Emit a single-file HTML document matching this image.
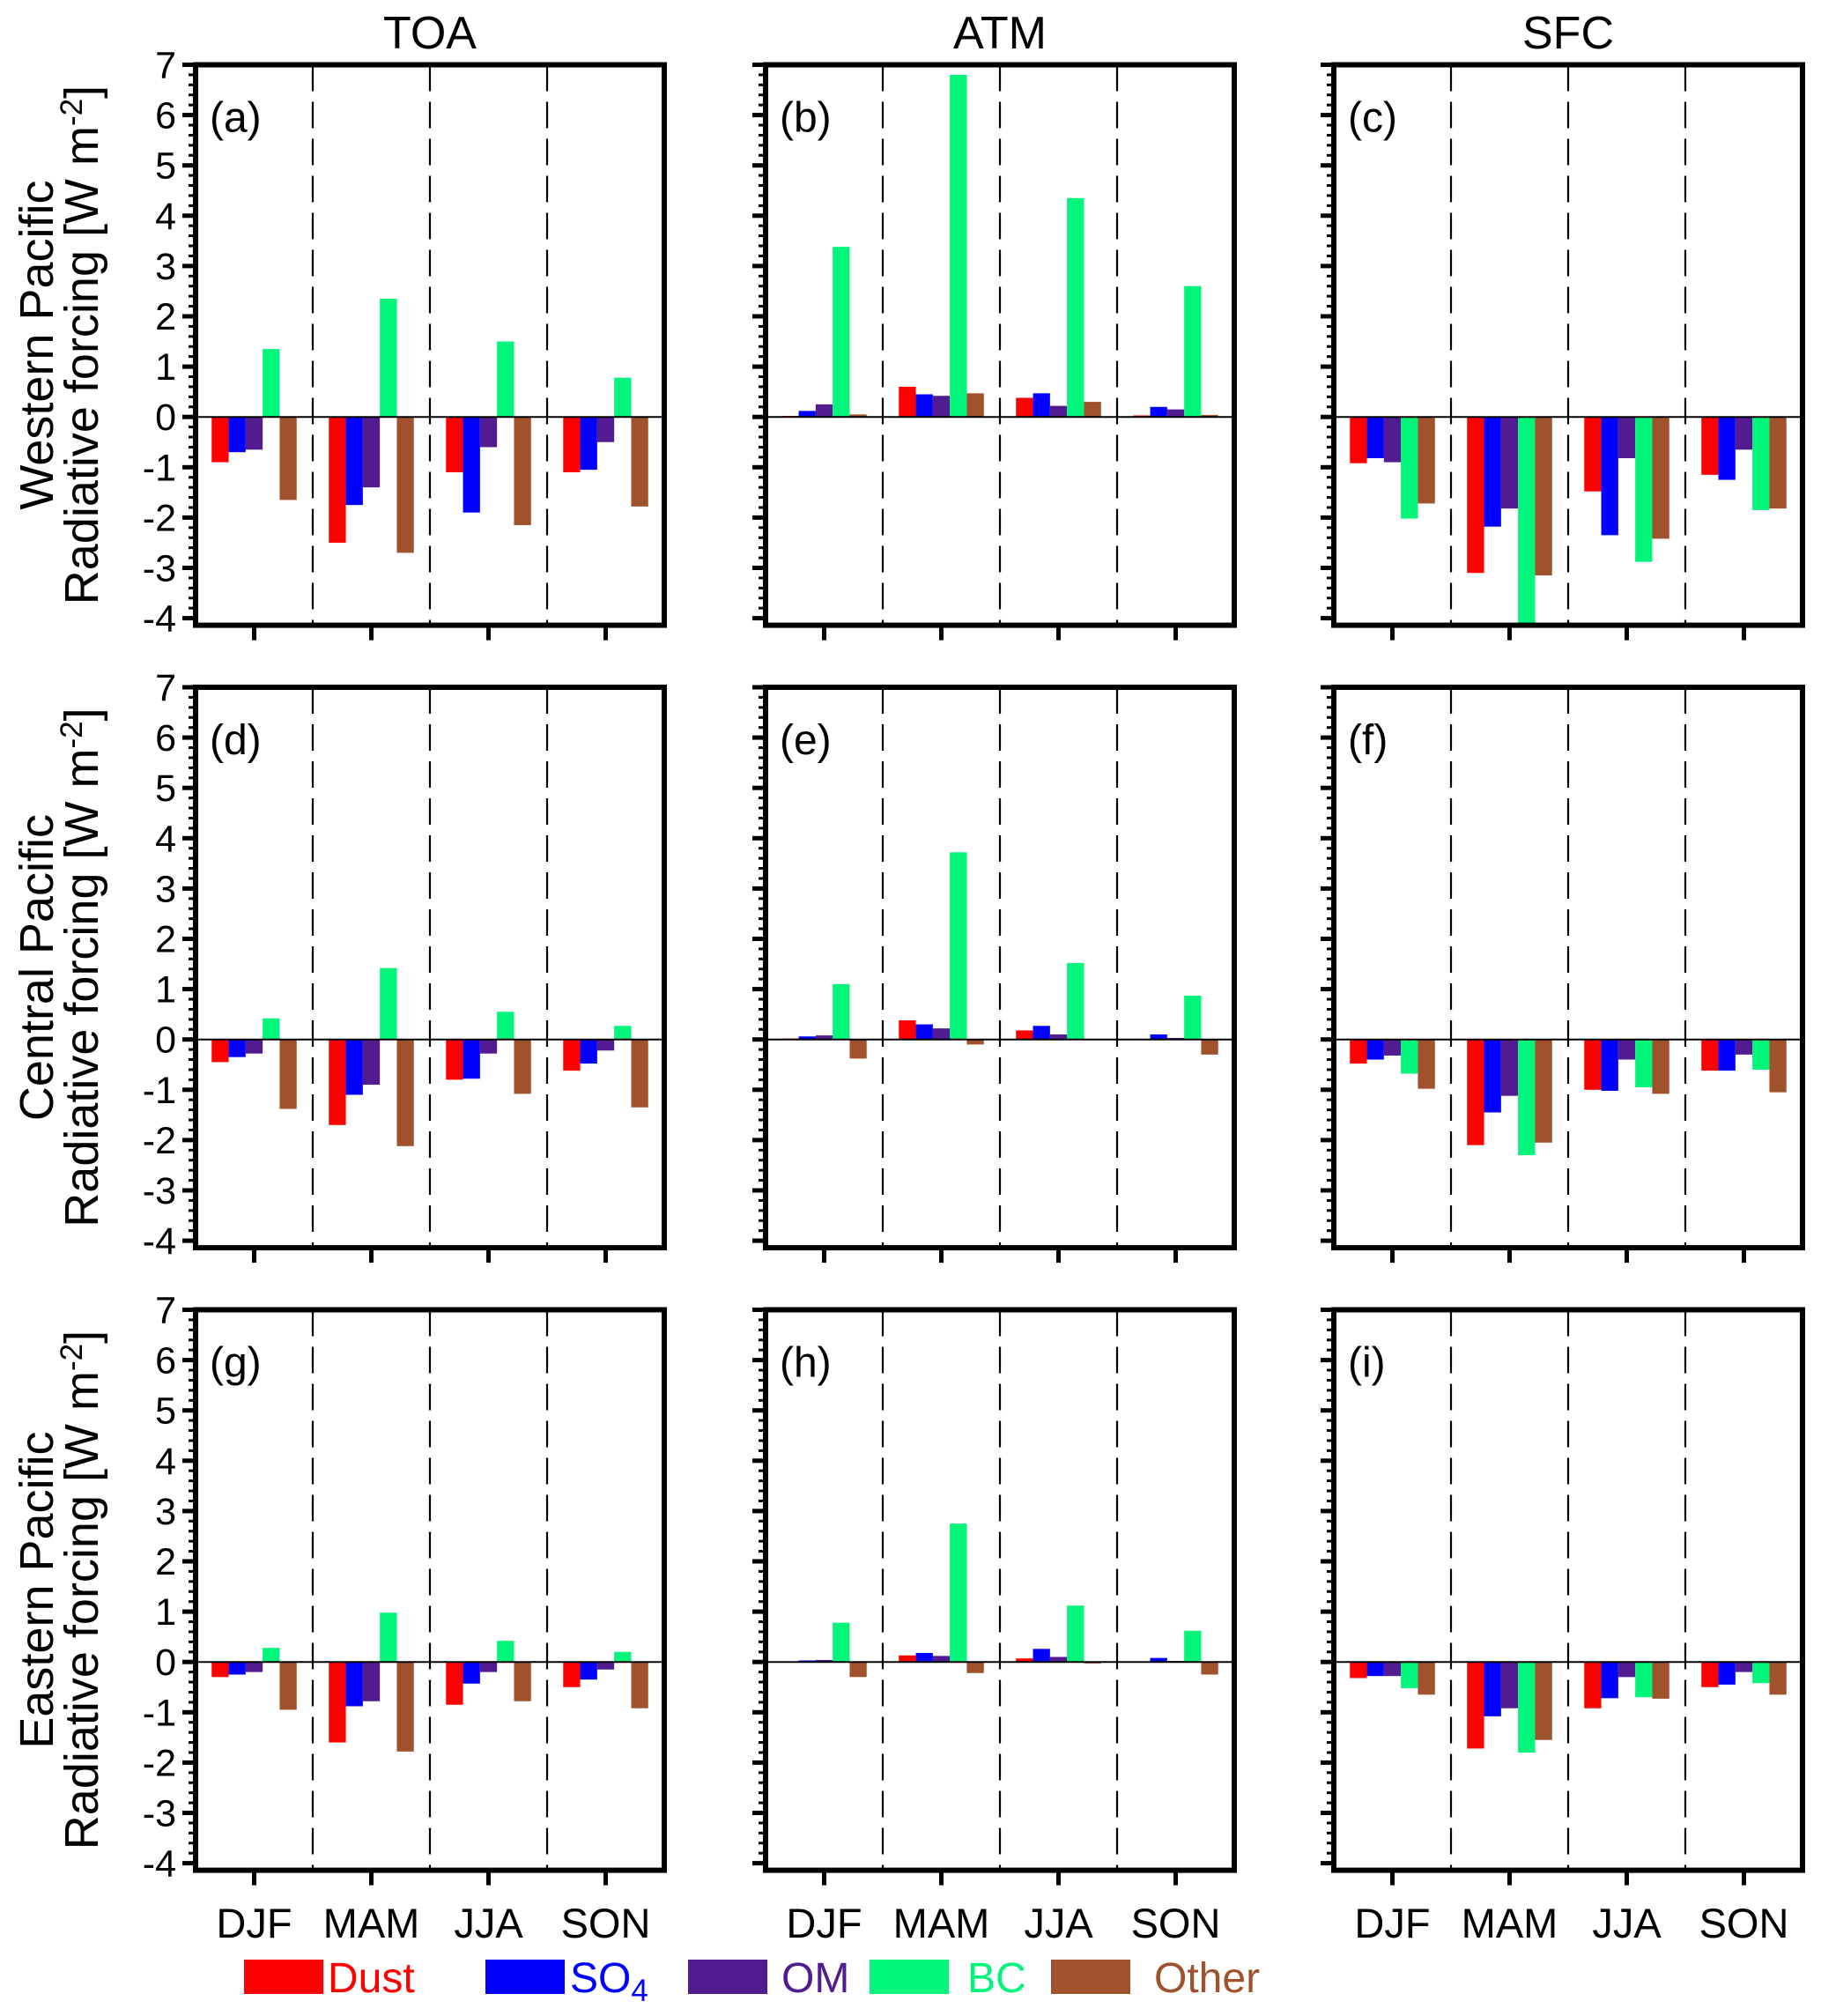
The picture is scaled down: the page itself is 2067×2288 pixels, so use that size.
<!DOCTYPE html>
<html><head><meta charset="utf-8"><style>
body{margin:0;background:#fff}
svg{display:block;font-family:"Liberation Sans",sans-serif}
</style></head><body>
<svg id="fig" width="2067" height="2288" viewBox="0 0 2067 2288"></svg>
<script>
const seasons=["DJF","MAM","JJA","SON"];
const species=["Dust","SO4","OM","BC","Other"];
const colors=["#ff0000","#0000ff","#521b8f","#00f57a","#a0522d"];
const panelLetters=["(a)","(b)","(c)","(d)","(e)","(f)","(g)","(h)","(i)"];
const colTitles=["TOA","ATM","SFC"];
const rowTitles=["Western Pacific","Central Pacific","Eastern Pacific"];
const yTicks=[-4,-3,-2,-1,0,1,2,3,4,5,6,7];
// values[panel][season][species]
const valsA=[[-0.9,-0.7,-0.65,1.35,-1.65],[-2.5,-1.75,-1.4,2.35,-2.7],[-1.1,-1.9,-0.6,1.5,-2.15],[-1.1,-1.05,-0.5,0.78,-1.78]];
const valsB=[[0.02,0.12,0.25,3.38,0.05],[0.6,0.45,0.42,6.8,0.47],[0.38,0.47,0.22,4.35,0.3],[0.03,0.2,0.15,2.6,0.04]];
const valsC=[[-0.92,-0.82,-0.9,-2.02,-1.72],[-3.1,-2.18,-1.82,-4.15,-3.15],[-1.48,-2.35,-0.82,-2.88,-2.42],[-1.15,-1.25,-0.65,-1.85,-1.82]];
const valsD=[[-0.45,-0.35,-0.28,0.42,-1.38],[-1.7,-1.1,-0.9,1.42,-2.12],[-0.8,-0.78,-0.28,0.55,-1.08],[-0.62,-0.48,-0.22,0.27,-1.35]];
const valsE=[[0.02,0.06,0.08,1.1,-0.38],[0.38,0.3,0.22,3.72,-0.1],[0.18,0.27,0.1,1.52,-0.01],[0.01,0.1,0.03,0.87,-0.3]];
const valsF=[[-0.48,-0.4,-0.32,-0.68,-0.98],[-2.1,-1.45,-1.12,-2.3,-2.05],[-1.0,-1.02,-0.4,-0.95,-1.08],[-0.62,-0.62,-0.3,-0.6,-1.05]];
const valsG=[[-0.3,-0.25,-0.2,0.28,-0.95],[-1.6,-0.88,-0.78,0.98,-1.78],[-0.85,-0.43,-0.2,0.42,-0.78],[-0.5,-0.35,-0.15,0.2,-0.92]];
const valsH=[[0.01,0.03,0.04,0.78,-0.3],[0.13,0.18,0.12,2.75,-0.22],[0.07,0.26,0.1,1.12,-0.03],[0.01,0.08,0.02,0.62,-0.25]];
const valsI=[[-0.32,-0.28,-0.28,-0.52,-0.65],[-1.72,-1.08,-0.92,-1.8,-1.55],[-0.92,-0.72,-0.3,-0.7,-0.73],[-0.5,-0.45,-0.2,-0.42,-0.65]];
const allVals=[valsA,valsB,valsC,valsD,valsE,valsF,valsG,valsH,valsI];

const NS="http://www.w3.org/2000/svg";
const svg=document.getElementById('fig');
function mk(tag,attrs,parent,text){const e=document.createElementNS(NS,tag);for(const k in attrs)e.setAttribute(k,attrs[k]);if(text!==undefined)e.textContent=text;(parent||svg).appendChild(e);return e;}

const colLeft=[222,869,1514], panelW=532;
const rowTop=[73.5,780,1486.5];
const unit=57.1, ymax=7, ymin=-4;
const frameBottomExtra=8;

for(let r=0;r<3;r++){for(let c=0;c<3;c++){
  const idx=r*3+c, vals=allVals[idx];
  const L=colLeft[c], T=rowTop[r];
  const yS=v=>T+(ymax-v)*unit;
  const B=yS(ymin)+frameBottomExtra;
  const gw=panelW/4;
  const xS=(s,k)=>L+s*gw+(gw-5*19.3)/2+k*19.3;
  const g=mk('g',{});
  
  
  for(let s=0;s<4;s++)for(let k=0;k<5;k++){
    const v=vals[s][k];const y0=yS(0),y1=yS(v);
    const b=mk('rect',{x:xS(s,k),y:Math.min(y0,y1),width:19.3,height:Math.max(Math.abs(y1-y0),0.8),fill:colors[k]},g);
    
    
  }
  const z=mk('line',{x1:L,x2:L+panelW,y1:yS(0),y2:yS(0),stroke:'#000','stroke-width':2},g);
  
  for(let s=1;s<4;s++){
    const d=mk('line',{x1:L+s*gw,x2:L+s*gw,y1:T,y2:B,stroke:'#000','stroke-width':2.2,'stroke-dasharray':'30 12'},g);
    
  }
  for(let v=ymin;v<=ymax+0.001;v+=0.2){
    const major=Math.abs(v-Math.round(v))<0.01;
    mk('line',{x1:L-(major?15:8),x2:L,y1:yS(v),y2:yS(v),stroke:'#000','stroke-width':major?5:3},g);
  }
  if(c===0){
    yTicks.forEach(t=>{
      const tl=mk('text',{x:L-22,y:yS(t)+15,'text-anchor':'end','font-size':43},g,String(t));
      
    });
  }
  for(let s=0;s<4;s++){
    const cx=L+s*gw+gw/2;
    mk('line',{x1:cx,x2:cx,y1:B,y2:B+17,stroke:'#000','stroke-width':5},g);
    if(r===2){
      const sl=mk('text',{x:cx,y:2199,'text-anchor':'middle','font-size':47},g,seasons[s]);
      
    }
  }
  const f=mk('rect',{x:L,y:T,width:panelW,height:B-T,fill:'none',stroke:'#000','stroke-width':6},g);
  
  const pl=mk('text',{x:L+16,y:T+76,'font-size':48},g,panelLetters[idx]);
  
  if(r===0){
    const ct=mk('text',{x:L+panelW/2,y:55,'text-anchor':'middle','font-size':52},g,colTitles[c]);
    
  }
  if(c===0){
    const cy=T+(B-T)/2;
    const t1=mk('text',{x:0,y:0,'text-anchor':'middle','font-size':54,transform:`translate(60,${cy}) rotate(-90)`},g,rowTitles[r]);
    
    const t2=mk('text',{x:0,y:0,'text-anchor':'middle','font-size':54,transform:`translate(111,${cy}) rotate(-90)`},g);
    
    t2.appendChild(document.createTextNode('Radiative forcing [W m'));
    mk('tspan',{dy:-18,'font-size':35},t2,'-2');
    mk('tspan',{dy:18},t2,']');
  }
}}
const legRectX=[277,551,781,987,1193];
const legTextX=[372,647,887,1098,1310];
const lg=mk('g',{});

for(let k=0;k<5;k++){
  const e=mk('g',{},lg);
  
  
  mk('rect',{x:legRectX[k],y:2224,width:90,height:39,fill:colors[k]},e);
  const t=mk('text',{x:legTextX[k],y:2261,'font-size':48,fill:colors[k]},e);
  if(k===1){t.appendChild(document.createTextNode('SO'));mk('tspan',{dy:10,'font-size':35},t,'4');}
  else t.textContent=species[k];
}
</script>
</body></html>
